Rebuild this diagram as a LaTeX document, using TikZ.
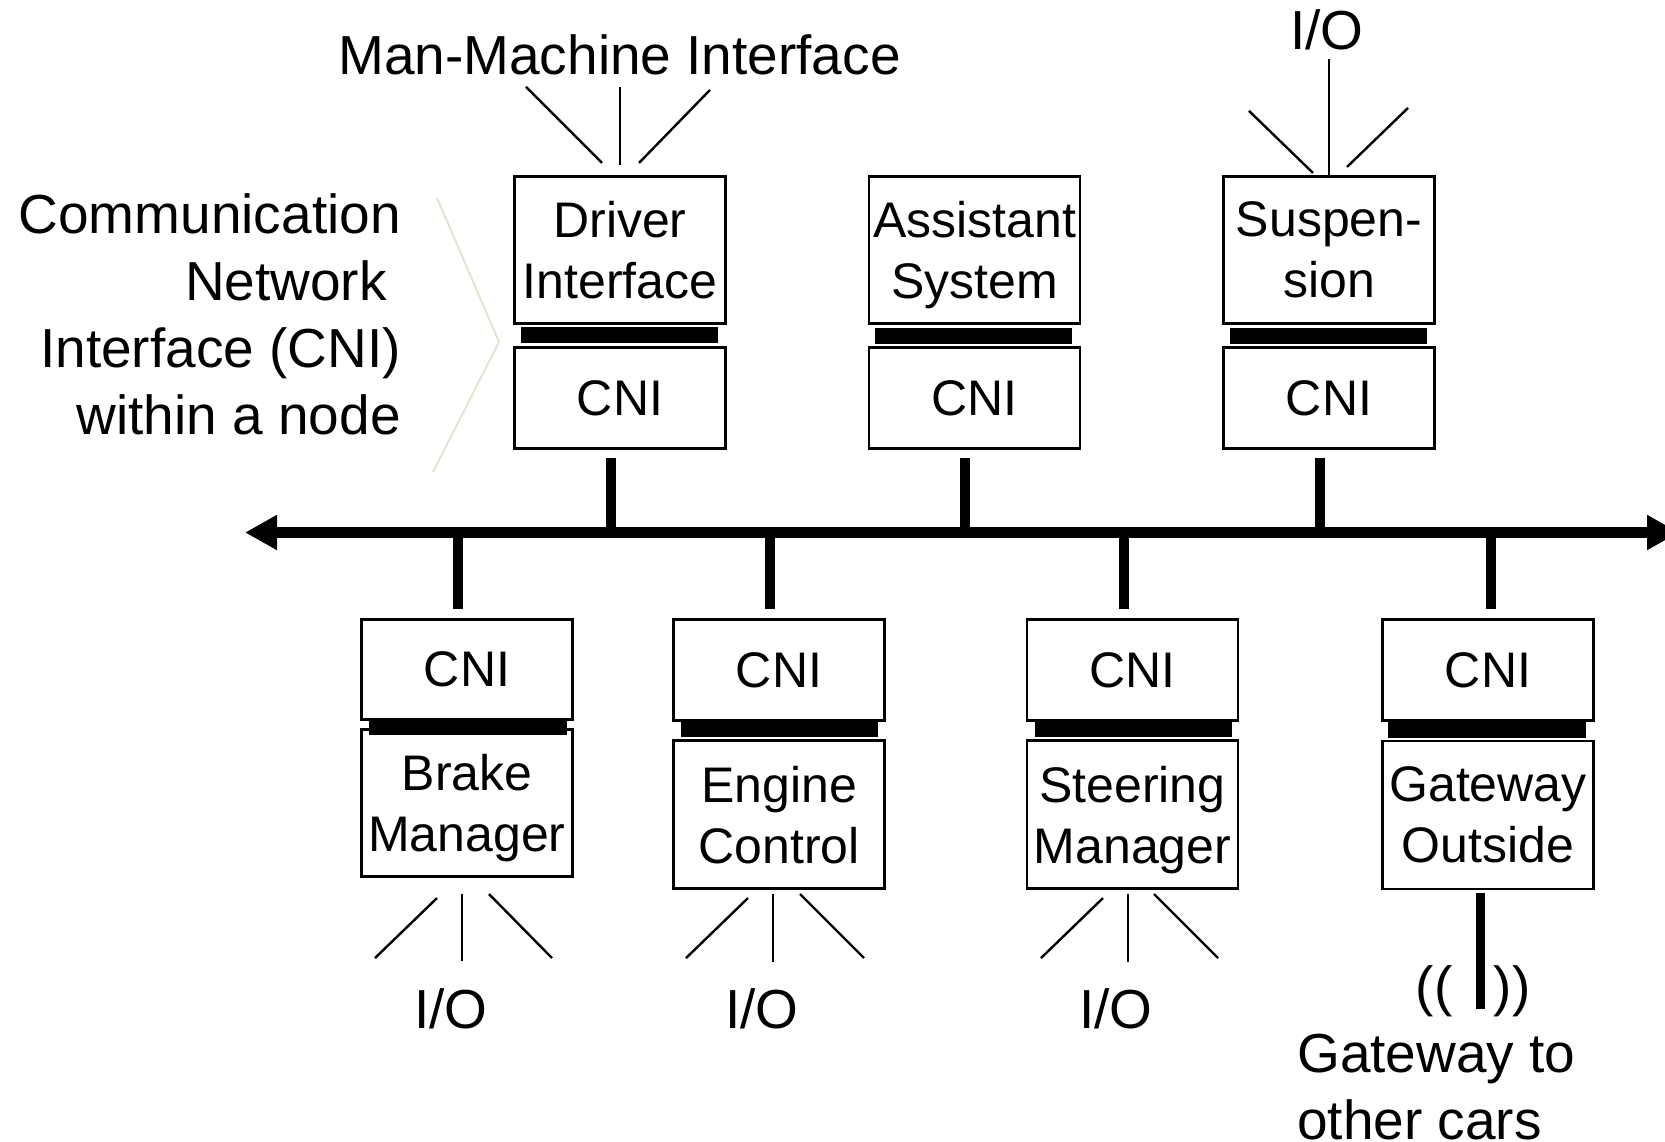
\documentclass[tikz,border=0pt]{standalone}
\usepackage{fontspec}
\setmainfont{Liberation Sans}
\usetikzlibrary{arrows.meta}
\definecolor{chevcol}{HTML}{E6E2D3}
\begin{document}
\begin{tikzpicture}[x=1pt,y=-1pt,
  boxtext/.style={font=\fontsize{50}{61}\selectfont, align=center, inner sep=0pt, text depth=0pt},
  appbox/.style={boxtext, draw, line width=2.6pt, minimum width=211pt, minimum height=147.5pt},
  cnibox/.style={boxtext, draw, line width=2.6pt, minimum width=211pt, minimum height=100.5pt},
  joinbar/.style={fill=black, inner sep=0pt, minimum width=197pt, minimum height=16pt},
  lbl/.style={font=\fontsize{55}{67}\selectfont, inner sep=0pt},
  stub/.style={line width=10pt},
  fan/.style={line width=2.4pt},
  thinfan/.style={line width=1.3pt},
  bus/.style={line width=11pt, {Triangle[length=32pt,width=33pt]}-{Triangle[length=32pt,width=33pt]}},
  chev/.style={draw=chevcol, line width=2pt}
]
\useasboundingbox (0,0) rectangle (1665,1142);
\clip (0,0) rectangle (1665,1142);

% ---------- nodes above the bus ----------
\node[appbox] (drv) at (620,250) {Driver\\Interface};
\node[cnibox] (drvcni) at (620,398) {CNI};
\node[joinbar] (drvbar) at (619.5,335) {};

\node[appbox] (ast) at (974.5,250) {Assistant\\System};
\node[cnibox] (astcni) at (974.5,398) {CNI};
\node[joinbar] (astbar) at (973.5,335.5) {};

\node[appbox] (sus) at (1329,250) {Suspen-\\sion};
\node[cnibox] (suscni) at (1329,398) {CNI};
\node[joinbar] (susbar) at (1328.5,335.5) {};

% ---------- nodes below the bus ----------
\node[cnibox] (brkcni) at (467,669.5) {CNI};
\node[appbox] (brk) at (467,803) {Brake\\Manager};
\node[joinbar, minimum width=198pt, minimum height=15pt] (brkbar) at (468,727.5) {};

\node[cnibox] (engcni) at (779,670) {CNI};
\node[appbox, minimum height=148.5pt] (eng) at (779,814.5) {Engine\\Control};
\node[joinbar] (engbar) at (779.5,729) {};

\node[cnibox] (strcni) at (1132.5,670) {CNI};
\node[appbox, minimum height=148.5pt] (str) at (1132.5,814.5) {Steering\\Manager};
\node[joinbar] (strbar) at (1133.5,729) {};

\node[cnibox] (gwcni) at (1488,670) {CNI};
\node[appbox, minimum height=148pt] (gw) at (1488,815) {Gateway\\Outside};
\node[joinbar, minimum width=198pt] (gwbar) at (1487,730) {};

% ---------- the bus ----------
\coordinate (busL) at (245,532.5);
\coordinate (busR) at (1679,532.5);
\draw[bus] (busL) -- (busR);

% stubs from the CNIs to the bus
\draw[stub] ([shift={(-9pt,-8pt)}]drvcni.south) -- ([xshift=-9pt]drvcni.south |- busL);
\draw[stub] ([shift={(-9.5pt,-8pt)}]astcni.south) -- ([xshift=-9.5pt]astcni.south |- busL);
\draw[stub] ([shift={(-9pt,-8pt)}]suscni.south) -- ([xshift=-9pt]suscni.south |- busL);

\draw[stub] ([xshift=-9pt]brkcni.north |- busL) -- ([shift={(-9pt,9pt)}]brkcni.north);
\draw[stub] ([xshift=-9pt]engcni.north |- busL) -- ([shift={(-9pt,9pt)}]engcni.north);
\draw[stub] ([xshift=-8.5pt]strcni.north |- busL) -- ([shift={(-8.5pt,9pt)}]strcni.north);
\draw[stub] ([xshift=3pt]gwcni.north |- busL) -- ([shift={(3pt,9pt)}]gwcni.north);

% ---------- man-machine interface ----------
\node[lbl, anchor=base] (mmi) at (619.5,75) {Man-Machine Interface};
\draw[fan] ([shift={(-18pt,12pt)}]drv.north) -- ++(-76,-76);
\draw[fan] ([shift={(0pt,10pt)}]drv.north) -- ++(0,-78);
\draw[fan] ([shift={(19pt,12pt)}]drv.north) -- ++(71,-73);

% ---------- suspension I/O ----------
\node[lbl, anchor=base] (susio) at (1327,50) {I/O};
\draw[fan] ([shift={(-16pt,2pt)}]sus.north) -- ++(-64,-62);
\draw[thinfan] (sus.north) -- ++(0,-116);
\draw[fan] ([shift={(18pt,8pt)}]sus.north) -- ++(61,-59);

% ---------- I/O below the lower nodes ----------
\draw[fan] ([shift={(-30pt,-20pt)}]brk.south) -- ++(-62,60);
\draw[fan] ([shift={(-5pt,-16pt)}]brk.south) -- ++(0,67);
\draw[fan] ([shift={(22pt,-16pt)}]brk.south) -- ++(63,64);
\node[lbl, anchor=base] (brkio) at (451,1028) {I/O};

\draw[fan] ([shift={(-31pt,-8pt)}]eng.south) -- ++(-62,60);
\draw[fan] ([shift={(-6pt,-4pt)}]eng.south) -- ++(0,68);
\draw[fan] ([shift={(21pt,-4pt)}]eng.south) -- ++(64,64);
\node[lbl, anchor=base] (engio) at (762,1028) {I/O};

\draw[fan] ([shift={(-29.5pt,-8pt)}]str.south) -- ++(-62,60);
\draw[fan] ([shift={(-4.5pt,-4pt)}]str.south) -- ++(0,68);
\draw[fan] ([shift={(21.5pt,-4pt)}]str.south) -- ++(64,64);
\node[lbl, anchor=base] (strio) at (1116,1028) {I/O};

% ---------- gateway antenna ----------
\coordinate (anttip) at ([xshift=-8pt]gw.south |- 0,1009);
\draw[line width=9pt] ([shift={(-8pt,-3pt)}]gw.south) -- (anttip);
\node[lbl, anchor=base] (parl) at (1434,1005) {((};
\node[lbl, anchor=base] (parr) at (1512,1005) {))};
\node[lbl, anchor=north west, align=left] (gwlbl) at (1297,1034) {Gateway to\\other cars};

% ---------- CNI caption ----------
\node[lbl, anchor=north east, align=right] (cnilbl) at (401,193)
  {Communication\\Network\kern14pt\\Interface (CNI)\\within a node};
\draw[chev] (437,198) -- (499,342) -- (433,472);
\end{tikzpicture}
\end{document}
